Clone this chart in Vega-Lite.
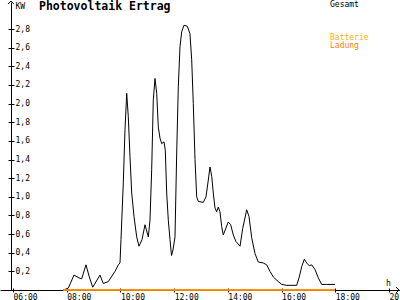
{
  "$schema": "https://vega.github.io/schema/vega-lite/v6.json",
  "width": 400,
  "height": 288,
  "autosize": {"type": "none"},
  "padding": {"left": 0, "right": 0, "top": 2, "bottom": 10},
  "background": "white",
  "config": {
    "view": {"stroke": null},
    "axis": {"grid": false, "domainColor": "black", "tickColor": "black", "labelColor": "black", "titleColor": "black", "labelFont": "DejaVu Sans Mono", "titleFont": "DejaVu Sans Mono", "labelFontSize": 8, "titleFontSize": 8, "titleFontWeight": "normal", "domainWidth": 1, "tickWidth": 1, "labelFlush": false, "labelOverlap": false, "labelBound": false},
    "legend": {"labelFont": "DejaVu Sans Mono", "labelFontSize": 8, "symbolSize": 0, "symbolOpacity": 0, "symbolStrokeWidth": 0, "labelOffset": 0, "rowPadding": 0, "padding": 0, "labelLimit": 200}
  },
  "title": {"text": "Photovoltaik Ertrag", "anchor": "start", "frame": "group", "orient": "top", "offset": 0, "dx": 39, "dy": 22.5, "baseline": "alphabetic", "font": "DejaVu Sans Mono", "fontWeight": "bold", "fontSize": 11.5, "color": "black"},
  "datasets": {
    "pv": [
      {"h": 7.873, "kw": 0, "series": "Gesamt"},
      {"h": 8.059, "kw": 0.02, "series": "Gesamt"},
      {"h": 8.271, "kw": 0.16, "series": "Gesamt"},
      {"h": 8.457, "kw": 0.13, "series": "Gesamt"},
      {"h": 8.558, "kw": 0.12, "series": "Gesamt"},
      {"h": 8.718, "kw": 0.27, "series": "Gesamt"},
      {"h": 8.841, "kw": 0.14, "series": "Gesamt"},
      {"h": 8.968, "kw": 0.03, "series": "Gesamt"},
      {"h": 9.239, "kw": 0.16, "series": "Gesamt"},
      {"h": 9.362, "kw": 0.07, "series": "Gesamt"},
      {"h": 9.548, "kw": 0.09, "series": "Gesamt"},
      {"h": 9.798, "kw": 0.2, "series": "Gesamt"},
      {"h": 9.921, "kw": 0.27, "series": "Gesamt"},
      {"h": 9.984, "kw": 0.29, "series": "Gesamt"},
      {"h": 10.021, "kw": 0.54, "series": "Gesamt"},
      {"h": 10.107, "kw": 1.15, "series": "Gesamt"},
      {"h": 10.17, "kw": 1.72, "series": "Gesamt"},
      {"h": 10.234, "kw": 2.11, "series": "Gesamt"},
      {"h": 10.293, "kw": 1.86, "series": "Gesamt"},
      {"h": 10.356, "kw": 1.43, "series": "Gesamt"},
      {"h": 10.42, "kw": 1.04, "series": "Gesamt"},
      {"h": 10.505, "kw": 0.79, "series": "Gesamt"},
      {"h": 10.606, "kw": 0.57, "series": "Gesamt"},
      {"h": 10.692, "kw": 0.47, "series": "Gesamt"},
      {"h": 10.803, "kw": 0.54, "series": "Gesamt"},
      {"h": 10.915, "kw": 0.7, "series": "Gesamt"},
      {"h": 11.001, "kw": 0.61, "series": "Gesamt"},
      {"h": 11.038, "kw": 0.57, "series": "Gesamt"},
      {"h": 11.101, "kw": 0.75, "series": "Gesamt"},
      {"h": 11.164, "kw": 1.29, "series": "Gesamt"},
      {"h": 11.224, "kw": 2.04, "series": "Gesamt"},
      {"h": 11.287, "kw": 2.27, "series": "Gesamt"},
      {"h": 11.351, "kw": 2.11, "series": "Gesamt"},
      {"h": 11.41, "kw": 1.75, "series": "Gesamt"},
      {"h": 11.473, "kw": 1.63, "series": "Gesamt"},
      {"h": 11.537, "kw": 1.57, "series": "Gesamt"},
      {"h": 11.622, "kw": 1.59, "series": "Gesamt"},
      {"h": 11.671, "kw": 1.5, "series": "Gesamt"},
      {"h": 11.723, "kw": 1.04, "series": "Gesamt"},
      {"h": 11.783, "kw": 0.75, "series": "Gesamt"},
      {"h": 11.846, "kw": 0.54, "series": "Gesamt"},
      {"h": 11.902, "kw": 0.37, "series": "Gesamt"},
      {"h": 11.958, "kw": 0.43, "series": "Gesamt"},
      {"h": 12.032, "kw": 0.57, "series": "Gesamt"},
      {"h": 12.095, "kw": 1.47, "series": "Gesamt"},
      {"h": 12.155, "kw": 2.18, "series": "Gesamt"},
      {"h": 12.218, "kw": 2.61, "series": "Gesamt"},
      {"h": 12.281, "kw": 2.77, "series": "Gesamt"},
      {"h": 12.367, "kw": 2.84, "series": "Gesamt"},
      {"h": 12.49, "kw": 2.83, "series": "Gesamt"},
      {"h": 12.59, "kw": 2.75, "series": "Gesamt"},
      {"h": 12.654, "kw": 2.47, "series": "Gesamt"},
      {"h": 12.713, "kw": 2.0, "series": "Gesamt"},
      {"h": 12.777, "kw": 1.4, "series": "Gesamt"},
      {"h": 12.84, "kw": 1.0, "series": "Gesamt"},
      {"h": 12.9, "kw": 0.95, "series": "Gesamt"},
      {"h": 13.086, "kw": 0.94, "series": "Gesamt"},
      {"h": 13.186, "kw": 1.0, "series": "Gesamt"},
      {"h": 13.272, "kw": 1.18, "series": "Gesamt"},
      {"h": 13.335, "kw": 1.32, "series": "Gesamt"},
      {"h": 13.399, "kw": 1.22, "series": "Gesamt"},
      {"h": 13.458, "kw": 1.04, "series": "Gesamt"},
      {"h": 13.521, "kw": 0.88, "series": "Gesamt"},
      {"h": 13.585, "kw": 0.84, "series": "Gesamt"},
      {"h": 13.644, "kw": 0.89, "series": "Gesamt"},
      {"h": 13.707, "kw": 0.84, "series": "Gesamt"},
      {"h": 13.771, "kw": 0.68, "series": "Gesamt"},
      {"h": 13.83, "kw": 0.59, "series": "Gesamt"},
      {"h": 14.016, "kw": 0.73, "series": "Gesamt"},
      {"h": 14.106, "kw": 0.7, "series": "Gesamt"},
      {"h": 14.203, "kw": 0.59, "series": "Gesamt"},
      {"h": 14.303, "kw": 0.52, "series": "Gesamt"},
      {"h": 14.453, "kw": 0.47, "series": "Gesamt"},
      {"h": 14.553, "kw": 0.66, "series": "Gesamt"},
      {"h": 14.702, "kw": 0.86, "series": "Gesamt"},
      {"h": 14.787, "kw": 0.79, "series": "Gesamt"},
      {"h": 14.888, "kw": 0.56, "series": "Gesamt"},
      {"h": 15.011, "kw": 0.39, "series": "Gesamt"},
      {"h": 15.134, "kw": 0.3, "series": "Gesamt"},
      {"h": 15.32, "kw": 0.29, "series": "Gesamt"},
      {"h": 15.446, "kw": 0.27, "series": "Gesamt"},
      {"h": 15.569, "kw": 0.2, "series": "Gesamt"},
      {"h": 15.692, "kw": 0.14, "series": "Gesamt"},
      {"h": 15.878, "kw": 0.09, "series": "Gesamt"},
      {"h": 16.005, "kw": 0.06, "series": "Gesamt"},
      {"h": 16.191, "kw": 0.05, "series": "Gesamt"},
      {"h": 16.563, "kw": 0.05, "series": "Gesamt"},
      {"h": 16.66, "kw": 0.14, "series": "Gesamt"},
      {"h": 16.75, "kw": 0.25, "series": "Gesamt"},
      {"h": 16.846, "kw": 0.33, "series": "Gesamt"},
      {"h": 16.936, "kw": 0.29, "series": "Gesamt"},
      {"h": 17.033, "kw": 0.26, "series": "Gesamt"},
      {"h": 17.122, "kw": 0.27, "series": "Gesamt"},
      {"h": 17.245, "kw": 0.22, "series": "Gesamt"},
      {"h": 17.368, "kw": 0.13, "series": "Gesamt"},
      {"h": 17.494, "kw": 0.06, "series": "Gesamt"},
      {"h": 17.681, "kw": 0.06, "series": "Gesamt"},
      {"h": 17.989, "kw": 0.06, "series": "Gesamt"},
      {"h": 7.873, "kw": 0, "series": "Batterie"},
      {"h": 17.989, "kw": 0, "series": "Batterie"},
      {"h": 7.873, "kw": 0, "series": "Ladung"},
      {"h": 17.989, "kw": 0, "series": "Ladung"}
    ]
  },
  "data": {"name": "pv"},
  "layer": [
    {
      "transform": [{"filter": "datum.series === 'Gesamt'"}],
      "mark": {"type": "line", "strokeWidth": 1, "interpolate": "linear"},
      "encoding": {
        "x": {"field": "h", "type": "quantitative", "scale": {"domain": [5.516, 20.41], "nice": false, "zero": false},
          "axis": {"orient": "bottom", "values": [6, 8, 10, 12, 14, 16, 18, 20], "tickSize": 2, "labelAlign": "left", "labelDx": -3, "labelPadding": 1, "labelExpr": "(datum.value < 10 ? '0' : '') + datum.value + ':00'", "title": "h", "titleX": 385.5, "titleY": -5, "titleAlign": "left", "titleBaseline": "alphabetic", "titleAngle": 0}},
        "y": {"field": "kw", "type": "quantitative", "scale": {"domain": [0, 3.09], "nice": false, "zero": false},
          "axis": {"orient": "left", "offset": -11, "values": [0.2, 0.4, 0.6, 0.8, 1.0, 1.2, 1.4, 1.6, 1.8, 2.0, 2.2, 2.4, 2.6, 2.8], "tickSize": 3, "labels": false, "title": null}},
        "color": {"field": "series", "type": "nominal", "scale": {"domain": ["Gesamt"], "range": ["#000000"]},
          "legend": {"orient": "none", "legendX": 322, "legendY": -1, "title": null, "labelColor": "black"}}
      }
    },
    {
      "transform": [{"filter": "datum.series !== 'Gesamt'"}],
      "mark": {"type": "line", "strokeWidth": 1.5, "interpolate": "linear"},
      "encoding": {
        "x": {"field": "h", "type": "quantitative", "scale": {"domain": [5.516, 20.41], "nice": false, "zero": false},
          "axis": {"orient": "top", "offset": -288, "values": [6, 8, 10, 12, 14, 16, 18, 20], "tickSize": 2, "labels": false, "domain": false, "title": null}},
        "y": {"field": "kw", "type": "quantitative", "scale": {"domain": [0, 3.09], "nice": false, "zero": false},
          "axis": {"orient": "right", "offset": -389, "values": [0.2, 0.4, 0.6, 0.8, 1.0, 1.2, 1.4, 1.6, 1.8, 2.0, 2.2, 2.4, 2.6, 2.8], "tickSize": 3, "domain": false, "labelPadding": 1, "labelExpr": "replace(format(datum.value, '.1f'), '.', ',')", "title": "KW", "titleAngle": 0, "titleX": 4, "titleY": 6, "titleAlign": "left", "titleBaseline": "alphabetic"}},
        "color": {"field": "series", "type": "nominal", "scale": {"domain": ["Batterie", "Ladung"], "range": ["#ffb000", "#ff8000"]},
          "legend": {"orient": "none", "legendX": 322, "legendY": 32, "title": null, "labelColor": "#ffb000",
            "encode": {"labels": {"update": {"fill": {"signal": "datum.label === 'Ladung' ? '#ff8000' : '#ffb000'"}}}}}}
      }
    },
    {
      "data": {"values": [{}]},
      "mark": {"type": "point", "shape": "M-1,1L0,0L1,1", "filled": false, "color": "black", "strokeWidth": 1, "size": 36, "opacity": 1},
      "encoding": {
        "x": {"datum": 5.9255, "type": "quantitative", "scale": {"domain": [5.516, 20.41], "nice": false, "zero": false}, "axis": null},
        "y": {"datum": 3.1, "type": "quantitative", "scale": {"domain": [0, 3.09], "nice": false, "zero": false}, "axis": null}
      }
    },
    {
      "data": {"values": [{}]},
      "mark": {"type": "point", "shape": "M-1,-1L0,0L-1,1", "filled": false, "color": "black", "strokeWidth": 1, "size": 36, "opacity": 1},
      "encoding": {
        "x": {"datum": 20.373, "type": "quantitative", "scale": {"domain": [5.516, 20.41], "nice": false, "zero": false}, "axis": null},
        "y": {"datum": 0, "type": "quantitative", "scale": {"domain": [0, 3.09], "nice": false, "zero": false}, "axis": null}
      }
    }
  ],
  "resolve": {"scale": {"color": "independent"}, "axis": {"x": "independent", "y": "independent"}}
}
